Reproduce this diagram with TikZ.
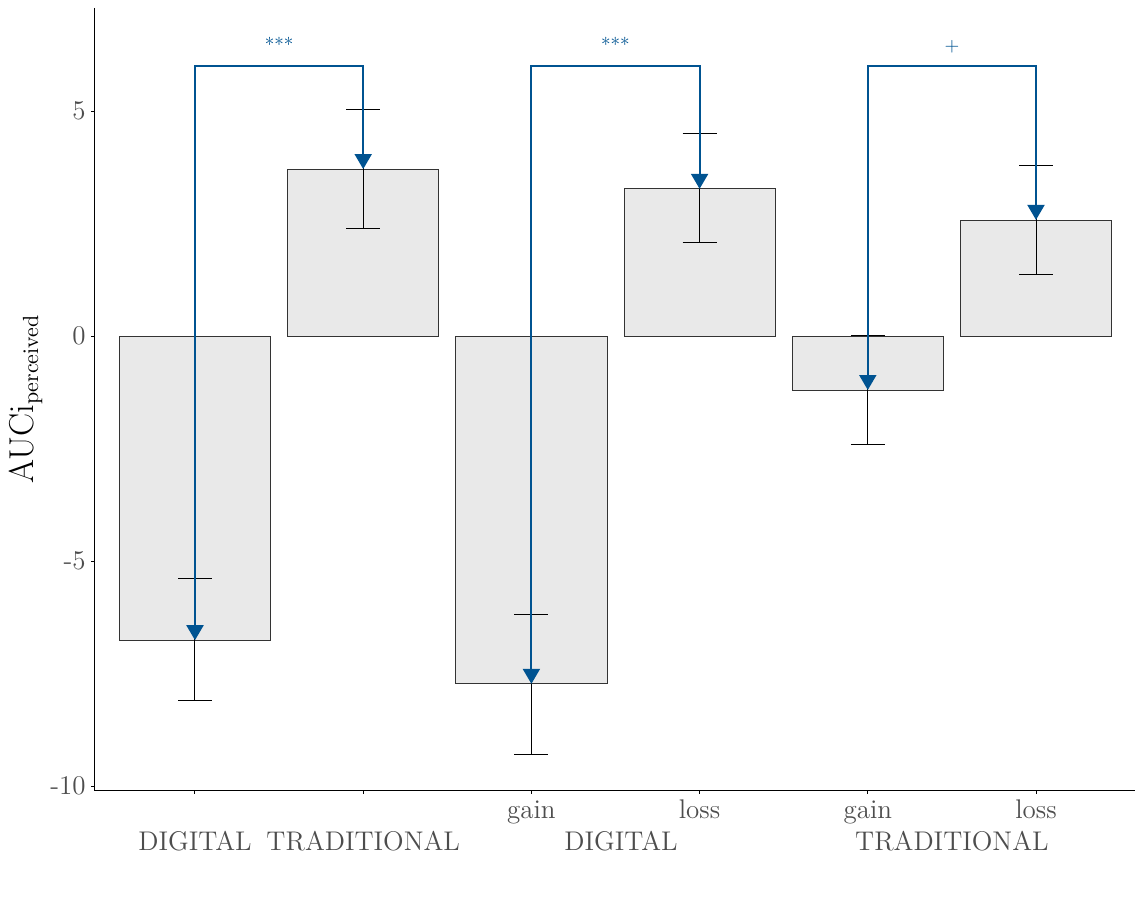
\documentclass[tikz,border=0pt]{standalone}
\usetikzlibrary{arrows.meta}
\definecolor{barfill}{RGB}{233,233,233}
\definecolor{barline}{RGB}{51,51,51}
\definecolor{sigblue}{RGB}{0,83,145}
\definecolor{axtext}{RGB}{77,77,77}
\tikzset{
  bar/.style={fill=barfill,draw=barline,line width=0.4pt},
  errbar/.style={black,line width=0.5pt},
  axisline/.style={black,line width=0.5pt},
  sigline/.style={sigblue,line width=1pt,
    {Triangle[length=7.5pt,width=8.5pt]}-{Triangle[length=7.5pt,width=8.5pt]}},
  axlabel/.style={text=axtext,inner sep=0pt,font=\fontsize{13.5}{16}\selectfont},
  siglabel/.style={text=sigblue,inner sep=0pt,anchor=base,font=\fontsize{9.5}{11}\selectfont}
}
\begin{document}
\begin{tikzpicture}[x=84.1pt,y=22.5pt]
    \useasboundingbox (-0.1593,-12.489) rectangle (6.660,7.467);
    % bars with error bars
    \foreach \i/\v/\lo/\hi in {1/-6.76/-8.11/-5.38, 2/3.71/2.38/5.04,
        3/-7.73/-9.29/-6.18, 4/3.27/2.07/4.49, 5/-1.2/-2.42/0.02, 6/2.58/1.36/3.8}{
        \draw[bar] (\i-0.45,0) rectangle (\i+0.45,\v);
        \draw[errbar] (\i,\lo) -- (\i,\hi)
            (\i-0.101,\lo) -- (\i+0.101,\lo) (\i-0.101,\hi) -- (\i+0.101,\hi);
        \coordinate (m\i) at (\i,\v);
        \coordinate (up\i) at (\i,6);
    }
    % axes
    \draw[axisline] (0.405,7.29) -- (0.405,-10.09) -- (6.589,-10.09);
    \foreach \t in {5,0,-5,-10}{
        \draw[axisline] (0.405,\t) -- (0.381,\t);
        \node[axlabel,anchor=east] at (0.352,\t) {\t};
    }
    \foreach \i in {1,...,6}
        \draw[axisline] (\i,-10.09) -- (\i,-10.18);
    \draw (3, -10.711) node[axlabel,anchor=base](g1){gain};
    \draw (4, -10.711) node[axlabel,anchor=base](l1){loss};
    \draw (5, -10.711) node[axlabel,anchor=base](g2){gain};
    \draw (6, -10.711) node[axlabel,anchor=base](l2){loss};
    \draw (1, -11.444) node[axlabel,anchor=base](dig){DIGITAL};
    \draw (2, -11.444) node[axlabel,anchor=base](trad){TRADITIONAL};
    \draw (3.533, -11.444) node[axlabel,anchor=base](diggrp){DIGITAL};
    \draw (5.5, -11.444) node[axlabel,anchor=base](tradgrp){TRADITIONAL};
    \draw (0.037, -1.4) node[inner sep=0pt,anchor=base,rotate=90,
        font=\fontsize{16}{19}\selectfont](ylab){$\mathrm{AUCi}_{\mathrm{perceived}}$};
    % significance brackets
    \draw[sigline] (m1) -- (up1) -- (up2) -- (m2);
    \draw[sigline] (m3) -- (up3) -- (up4) -- (m4);
    \draw[sigline] (m5) -- (up5) -- (up6) -- (m6);
    \draw (1.5, 6.32) node[siglabel](s1){***};
    \draw (3.5, 6.32) node[siglabel](s2){***};
    \draw (5.5, 6.32) node[siglabel](s3){+};
\end{tikzpicture}
\end{document}
